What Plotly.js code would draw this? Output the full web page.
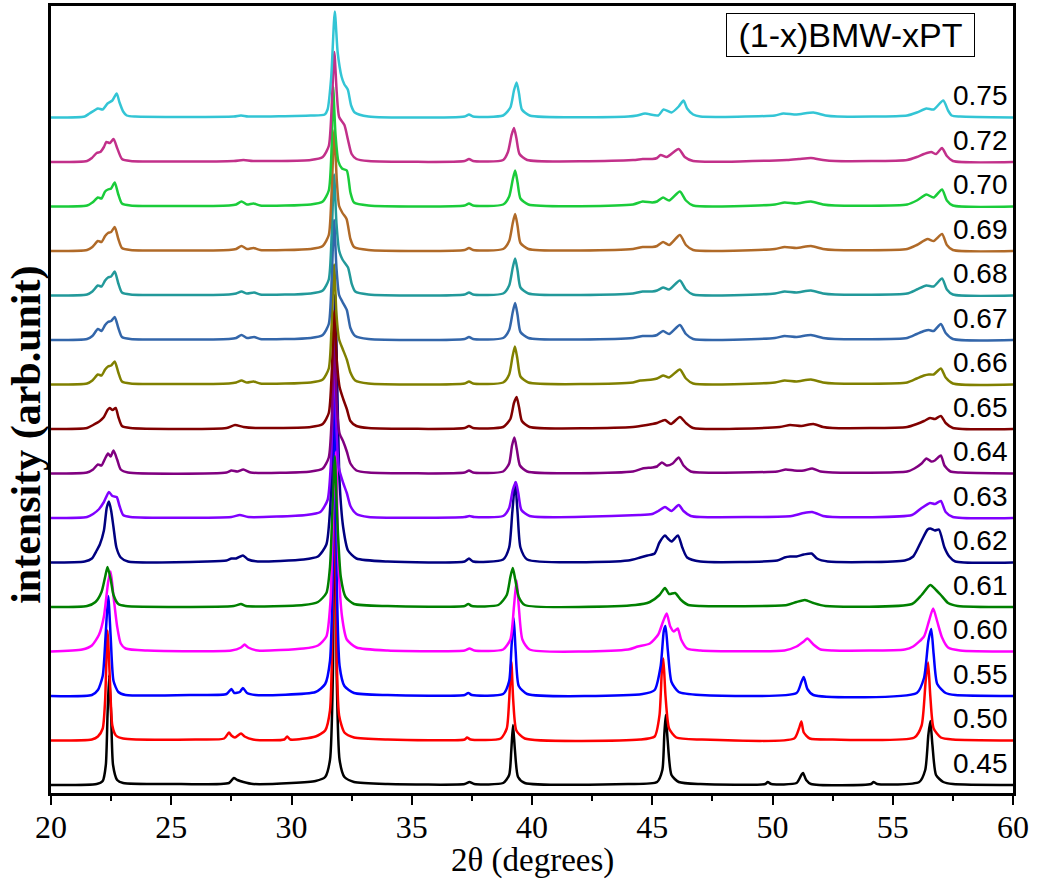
<!DOCTYPE html>
<html>
<head>
<meta charset="utf-8">
<script src="https://cdn.plot.ly/plotly-3.0.1.min.js"></script>
<style>
html,body{margin:0;padding:0;background:#ffffff;}
#chart{width:1038px;height:884px;}
</style>
</head>
<body>
<div id="chart"></div>
<script>
// Compositions x in (1-x)BMW-xPT, bottom to top
const compositions = ['0.45','0.50','0.55','0.60','0.61','0.62','0.63','0.64','0.65','0.66','0.67','0.68','0.69','0.70','0.72','0.75'];

// Each series: [2theta (deg), intensity above its own baseline (arb. unit)]
const s045 = [[20,0],[21.9,1],[22.15,4],[22.28,20],[22.35,70],[22.42,110],[22.5,70],[22.58,20],[22.75,5],[23.0,2],[25,1],[27.4,2],[27.6,7],[27.75,5],[28.0,3],[28.4,1],[30,2],[31.0,4],[31.4,8],[31.6,25],[31.72,110],[31.8,400],[31.88,110],[32.0,25],[32.2,8],[32.6,3],[34,1],[37.2,1],[37.4,3],[37.6,1],[38.8,2],[39.05,10],[39.14,35],[39.21,60],[39.29,35],[39.42,8],[39.7,2],[44,1],[45.2,3],[45.42,15],[45.5,50],[45.56,70],[45.64,45],[45.8,10],[46.1,3],[47,1],[49.7,1],[49.8,3],[49.95,1],[51.0,2],[51.2,10],[51.27,12],[51.4,5],[51.6,1],[54.1,1],[54.2,3],[54.35,1],[56.1,3],[56.35,15],[56.48,50],[56.56,64],[56.65,40],[56.8,10],[57.1,3],[57.5,1],[60,0]];
const s050 = [[20,0],[21.7,1],[21.95,4],[22.15,12],[22.25,40],[22.35,110],[22.45,60],[22.55,15],[22.7,5],[23.0,2],[26,1],[27.2,2],[27.4,8],[27.5,5],[27.65,3],[27.9,7],[28.05,4],[28.4,1],[29.7,1],[29.82,4],[29.95,1],[31.0,4],[31.4,10],[31.6,30],[31.7,110],[31.78,350],[31.86,110],[31.98,25],[32.2,8],[32.6,3],[34,1],[37.2,1],[37.3,3],[37.45,1],[38.7,2],[38.95,12],[39.05,40],[39.14,79],[39.22,40],[39.35,10],[39.7,2],[44.5,1],[45.1,4],[45.3,25],[45.4,70],[45.46,82],[45.55,45],[45.7,12],[46.0,3],[47,1],[50.9,2],[51.1,12],[51.2,19],[51.3,8],[51.55,2],[52.5,1],[55.9,3],[56.2,15],[56.37,60],[56.47,78],[56.56,45],[56.7,12],[57.0,3],[57.5,1],[60,0]];
const s055 = [[20,0],[21.7,1],[21.95,6],[22.15,20],[22.27,60],[22.38,100],[22.48,60],[22.6,15],[22.8,4],[23.1,1],[26,1],[27.3,2],[27.5,7],[27.62,3],[27.85,4],[27.98,8],[28.15,3],[28.5,1],[31.0,4],[31.4,12],[31.6,35],[31.72,130],[31.8,330],[31.88,120],[32.0,30],[32.2,10],[32.6,3],[34,1],[37.2,1],[37.35,3],[37.5,1],[38.8,2],[39.05,15],[39.15,50],[39.24,78],[39.32,45],[39.45,10],[39.8,2],[44.6,2],[45.1,6],[45.35,30],[45.48,65],[45.55,70],[45.65,45],[45.8,14],[46.1,4],[47,1],[51.0,3],[51.2,14],[51.3,19],[51.45,7],[51.7,1],[56.0,3],[56.3,18],[56.48,55],[56.6,67],[56.7,42],[56.85,12],[57.2,3],[57.6,1],[60,0]];
const s060 = [[20,0],[21.3,2],[21.7,6],[22.0,17],[22.2,35],[22.38,70],[22.48,80],[22.6,55],[22.75,25],[22.9,8],[23.1,3],[24,1],[27.5,1],[27.9,4],[28.05,7],[28.2,4],[28.6,1],[30.5,3],[31.1,6],[31.45,15],[31.62,50],[31.75,160],[31.85,200],[31.95,90],[32.1,35],[32.3,12],[32.7,4],[34,1],[37.2,1],[37.4,3],[37.6,1],[38.8,2],[39.1,12],[39.25,45],[39.36,71],[39.45,45],[39.6,12],[39.9,2],[44.0,2],[44.4,5],[44.9,8],[45.25,17],[45.45,30],[45.6,38],[45.75,25],[45.9,20],[46.06,23],[46.2,12],[46.45,3],[47,1],[50.5,1],[51.0,5],[51.3,10],[51.45,13],[51.7,7],[52.0,2],[52.5,1],[55.5,2],[55.85,5],[56.3,15],[56.5,30],[56.68,43],[56.85,30],[57.05,14],[57.3,4],[57.8,1],[60,0]];
const s061 = [[20,0],[21.5,1],[21.85,5],[22.1,15],[22.25,30],[22.35,40],[22.48,28],[22.6,12],[22.8,3],[23.1,1],[27.6,1],[27.9,3],[28.1,1],[30.5,2],[31.1,5],[31.45,14],[31.6,40],[31.72,110],[31.8,151],[31.9,90],[32.05,30],[32.25,10],[32.6,3],[34,1],[37.2,1],[37.35,3],[37.5,1],[38.6,2],[38.95,12],[39.1,30],[39.2,39],[39.3,28],[39.45,10],[39.7,2],[44.3,2],[44.9,5],[45.3,12],[45.53,19],[45.7,13],[45.95,14],[46.2,7],[46.5,2],[47,1],[50.6,2],[51.0,5],[51.35,7],[51.7,4],[52.2,1],[55.8,3],[56.2,12],[56.56,22],[56.8,17],[57.0,12],[57.3,4],[57.7,1],[60,0]];
const s062 = [[20,0],[21.4,1],[21.7,4],[21.9,12],[22.03,18],[22.2,32],[22.32,55],[22.41,61],[22.5,52],[22.6,35],[22.72,15],[22.9,5],[23.2,1],[26.5,1],[27.3,2],[27.5,4],[27.7,4],[27.98,7],[28.2,3],[28.6,1],[30.5,3],[31.1,6],[31.45,18],[31.62,60],[31.75,200],[31.82,268],[31.9,180],[32.0,80],[32.15,35],[32.35,12],[32.7,4],[34,1],[37.2,1],[37.38,4],[37.55,1],[38.8,3],[39.05,15],[39.18,50],[39.3,80],[39.4,50],[39.52,15],[39.8,3],[44.0,2],[44.5,5],[44.8,7],[45.1,9],[45.3,20],[45.53,27],[45.65,24],[45.8,21],[46.07,27],[46.25,15],[46.45,5],[47,1],[50.2,2],[50.5,5],[50.73,6],[51.0,6],[51.3,8],[51.63,9],[51.85,4],[52.3,1],[55.5,2],[55.85,6],[56.2,22],[56.45,33],[56.56,34],[56.75,32],[56.92,33],[57.15,15],[57.35,6],[57.6,1],[60,0]];
const s063 = [[20,0],[21.5,1],[21.75,4],[22.0,9],[22.2,16],[22.41,26],[22.55,22],[22.73,21],[22.85,12],[23.0,3],[23.3,1],[27.5,1],[27.85,3],[28.2,1],[30.6,3],[31.2,6],[31.5,18],[31.65,60],[31.77,160],[31.87,90],[31.97,50],[32.15,35],[32.3,25],[32.45,12],[32.7,4],[33.2,1],[37.2,1],[37.4,2],[37.6,1],[38.8,2],[39.05,10],[39.2,28],[39.33,36],[39.43,25],[39.56,8],[39.9,2],[44.45,3],[45.0,4],[45.25,7],[45.53,11],[45.8,7],[46.1,13],[46.3,7],[46.6,2],[47,1],[50.8,2],[51.3,5],[51.65,6],[52.1,2],[52.5,1],[55.8,3],[56.2,10],[56.55,15],[56.75,14],[57.0,17],[57.2,6],[57.5,1],[60,0]];
const s064 = [[20,0],[21.5,1],[21.75,4],[21.95,9],[22.1,8],[22.25,15],[22.37,20],[22.48,17],[22.6,23],[22.75,14],[22.9,4],[23.2,1],[27.3,1],[27.5,3],[27.75,2],[28.0,4],[28.3,1],[30.8,2],[31.3,5],[31.55,16],[31.68,60],[31.78,140],[31.88,70],[32.0,40],[32.15,32],[32.3,22],[32.45,10],[32.7,3],[33.2,1],[37.2,1],[37.38,3],[37.55,1],[38.8,2],[39.05,10],[39.17,28],[39.27,36],[39.37,24],[39.5,8],[39.8,2],[44.2,2],[44.6,5],[45.0,6],[45.2,7],[45.4,11],[45.6,8],[45.85,10],[46.1,16],[46.3,8],[46.6,2],[47,1],[50.2,2],[50.55,4],[50.9,3],[51.3,3],[51.65,5],[52.0,2],[52.5,1],[55.6,2],[55.9,5],[56.2,10],[56.4,15],[56.6,12],[56.75,13],[57.0,18],[57.15,8],[57.4,2],[57.8,1],[60,0]];
const s065 = [[20,0],[21.5,1],[21.75,4],[22.03,8],[22.2,12],[22.35,19],[22.44,21],[22.56,19],[22.69,21],[22.8,12],[22.95,3],[23.3,1],[27.3,1],[27.65,4],[28.0,2],[28.5,1],[30.8,2],[31.3,5],[31.55,16],[31.68,60],[31.78,118],[31.88,70],[32.0,42],[32.15,30],[32.3,20],[32.45,8],[32.7,3],[33.2,1],[37.2,1],[37.38,3],[37.55,1],[38.8,2],[39.1,10],[39.25,26],[39.36,32],[39.46,22],[39.58,8],[39.9,2],[44.2,2],[44.5,3],[45.0,5],[45.2,6],[45.53,9],[45.78,5],[46.15,12],[46.4,6],[46.7,1],[50.3,2],[50.73,4],[51.2,3],[51.7,5],[52.1,2],[52.5,1],[55.6,2],[56.0,5],[56.3,8],[56.55,11],[56.75,10],[57.0,13],[57.2,6],[57.5,1],[60,0]];
const s066 = [[20,0],[21.5,1],[21.72,4],[21.95,10],[22.1,9],[22.25,15],[22.37,18],[22.5,19],[22.65,23],[22.8,12],[22.95,3],[23.3,1],[27.4,1],[27.7,2],[27.92,4],[28.15,2],[28.42,3],[28.7,1],[30.8,2],[31.3,5],[31.55,16],[31.67,60],[31.77,120],[31.87,70],[31.98,45],[32.12,36],[32.3,25],[32.45,12],[32.65,4],[33.2,1],[37.2,1],[37.38,3],[37.55,1],[38.8,2],[39.05,10],[39.19,28],[39.29,38],[39.39,26],[39.52,8],[39.85,2],[44.2,2],[44.5,4],[45.0,5],[45.2,6],[45.45,9],[45.7,7],[46.15,15],[46.4,6],[46.7,1],[50.1,2],[50.5,4],[51.0,3],[51.6,5],[52.1,2],[52.6,1],[55.6,2],[56.0,6],[56.3,9],[56.5,10],[56.7,10],[57.0,16],[57.2,7],[57.5,1],[60,0]];
const s067 = [[20,0],[21.5,1],[21.72,4],[21.95,11],[22.1,9],[22.25,15],[22.37,18],[22.5,19],[22.65,23],[22.8,12],[22.95,3],[23.3,1],[27.4,1],[27.7,2],[27.92,5],[28.15,2],[28.45,3],[28.7,1],[30.8,2],[31.3,5],[31.55,16],[31.67,60],[31.77,120],[31.87,72],[31.98,45],[32.12,38],[32.3,30],[32.45,12],[32.65,4],[33.2,1],[37.2,1],[37.38,3],[37.55,1],[38.8,2],[39.05,10],[39.2,28],[39.3,37],[39.4,25],[39.52,8],[39.85,2],[44.2,2],[44.6,4],[45.0,4],[45.2,5],[45.45,9],[45.7,6],[46.15,15],[46.4,6],[46.7,1],[50.1,2],[50.5,4],[51.0,3],[51.6,5],[52.1,2],[52.6,1],[55.6,2],[56.0,6],[56.3,9],[56.5,10],[56.7,9],[57.0,16],[57.2,7],[57.5,1],[60,0]];
const s068 = [[20,0],[21.5,1],[21.72,4],[21.95,10],[22.1,9],[22.25,15],[22.37,18],[22.5,19],[22.65,24],[22.8,12],[22.95,3],[23.3,1],[27.4,1],[27.7,2],[27.92,4],[28.15,2],[28.45,3],[28.7,1],[30.8,2],[31.3,5],[31.55,16],[31.67,60],[31.77,121],[31.87,72],[31.98,45],[32.12,36],[32.35,28],[32.5,12],[32.65,4],[33.2,1],[37.2,1],[37.38,3],[37.55,1],[38.8,2],[39.05,10],[39.2,28],[39.3,37],[39.4,25],[39.52,8],[39.85,2],[44.2,2],[44.6,4],[45.0,4],[45.2,5],[45.45,8],[45.7,6],[46.15,15],[46.4,6],[46.7,1],[50.1,2],[50.5,4],[51.0,3],[51.6,5],[52.1,2],[52.6,1],[55.6,2],[56.0,6],[56.4,10],[56.7,9],[57.05,17],[57.25,6],[57.5,1],[60,0]];
const s069 = [[20,0],[21.5,1],[21.72,4],[21.95,10],[22.1,9],[22.25,15],[22.37,18],[22.5,19],[22.65,24],[22.8,12],[22.95,3],[23.3,1],[27.4,1],[27.7,2],[27.92,5],[28.15,2],[28.42,3],[28.7,1],[30.8,2],[31.3,5],[31.55,16],[31.67,60],[31.78,121],[31.88,72],[31.98,45],[32.12,38],[32.29,32],[32.45,12],[32.6,4],[33.2,1],[37.2,1],[37.38,3],[37.55,1],[38.8,2],[39.05,10],[39.2,28],[39.3,37],[39.4,25],[39.52,8],[39.85,2],[44.2,2],[44.6,4],[45.0,4],[45.2,5],[45.45,9],[45.7,6],[46.15,16],[46.4,6],[46.7,1],[50.1,2],[50.5,4],[51.0,3],[51.6,5],[52.1,2],[52.6,1],[55.6,2],[56.0,6],[56.45,12],[56.7,10],[57.05,17],[57.25,6],[57.5,1],[60,0]];
const s070 = [[20,0],[21.5,1],[21.72,4],[21.95,9],[22.1,8],[22.25,15],[22.37,17],[22.5,18],[22.65,24],[22.8,12],[22.95,3],[23.3,1],[27.4,1],[27.7,2],[27.92,5],[28.15,2],[28.42,3],[28.7,1],[30.8,2],[31.3,5],[31.55,16],[31.67,60],[31.73,120],[31.83,72],[31.95,45],[32.1,38],[32.3,36],[32.45,14],[32.6,4],[33.2,1],[37.2,1],[37.38,3],[37.55,1],[38.8,2],[39.05,10],[39.2,27],[39.3,36],[39.4,24],[39.52,8],[39.85,2],[44.2,2],[44.6,5],[45.0,4],[45.2,5],[45.45,9],[45.7,6],[46.15,15],[46.4,6],[46.7,1],[50.1,2],[50.5,4],[51.0,3],[51.6,5],[52.1,2],[52.6,1],[55.6,2],[56.0,6],[56.4,12],[56.7,9],[57.05,17],[57.25,6],[57.5,1],[60,0]];
const s072 = [[20,0],[21.5,1],[21.7,4],[21.9,9],[22.05,10],[22.2,15],[22.3,20],[22.45,19],[22.6,23],[22.75,14],[22.95,3],[23.3,1],[27.6,1],[28.0,2],[28.4,1],[30.8,2],[31.3,5],[31.55,16],[31.68,60],[31.78,110],[31.88,70],[31.98,45],[32.2,37],[32.35,22],[32.5,8],[32.7,3],[33.2,1],[37.2,1],[37.38,3],[37.55,1],[38.8,2],[39.0,10],[39.15,27],[39.25,34],[39.35,24],[39.48,8],[39.8,2],[44.2,2],[44.6,3],[45.0,3],[45.2,4],[45.35,7],[45.6,5],[46.1,13],[46.35,5],[46.7,1],[50.6,2],[51.1,3],[51.6,4],[52.1,2],[52.6,1],[55.6,2],[56.0,5],[56.3,8],[56.6,10],[56.8,8],[57.05,14],[57.25,6],[57.5,1],[60,0]];
const s075 = [[20,0],[21.4,1],[21.6,4],[21.95,9],[22.15,8],[22.35,14],[22.55,17],[22.73,24],[22.85,15],[23.0,6],[23.15,2],[23.5,1],[27.6,1],[27.9,2],[28.2,1],[30.8,2],[31.38,3],[31.5,8],[31.65,40],[31.8,106],[31.92,65],[32.08,41],[32.2,33],[32.34,28],[32.48,12],[32.63,5],[33.2,1],[37.2,1],[37.38,3],[37.55,1],[38.8,2],[39.1,10],[39.25,27],[39.36,35],[39.46,24],[39.58,8],[39.9,2],[44.0,1],[44.37,2],[44.7,4],[45.25,2],[45.47,8],[45.8,5],[46.1,11],[46.3,17],[46.45,9],[46.7,3],[47,1],[50.1,2],[50.45,4],[51.0,3],[51.7,5],[52.2,2],[52.7,1],[55.6,2],[56.0,5],[56.4,9],[56.7,8],[57.1,17],[57.3,7],[57.45,2],[57.8,1],[60,0]];

const seriesData = [s045,s050,s055,s060,s061,s062,s063,s064,s065,s066,s067,s068,s069,s070,s072,s075];
const seriesColors = ['#000000','#FF0000','#0000FF','#FF00FF','#008000','#000080','#8000FF','#800080','#800000','#808000','#3366AA','#22999A','#B06A28','#1ACC3A','#C2308A','#33C5D5'];

const stackBase = 8;      // baseline of the lowest pattern
const stackStep = 44.5;   // vertical shift between successive patterns

const traces = seriesData.map((s, i) => ({
  x: s.map(p => p[0]),
  y: s.map(p => p[1] + stackBase + i * stackStep),
  type: 'scatter',
  mode: 'lines',
  name: compositions[i],
  line: {color: seriesColors[i], width: 2.5, shape: 'spline', smoothing: 0.6},
  hoverinfo: 'skip',
  showlegend: false
}));

const annotations = compositions.map((c, i) => ({
  x: 59.88, y: stackBase + i * stackStep + 22,
  xref: 'x', yref: 'y',
  xanchor: 'right', yanchor: 'middle',
  text: c, showarrow: false,
  font: {family: 'Liberation Sans, Arial, sans-serif', size: 28, color: '#000'}
}));

annotations.push({
  x: 53.24, y: 758, xref: 'x', yref: 'y',
  xanchor: 'center', yanchor: 'middle',
  text: '(1-x)BMW-xPT', showarrow: false,
  font: {family: 'Liberation Sans, Arial, sans-serif', size: 34, color: '#000'},
  bordercolor: '#000', borderwidth: 1, borderpad: 0,
  width: 247, height: 42, bgcolor: 'rgba(255,255,255,0)'
});

// y-axis title (placed to match the reference's vertical offset)
annotations.push({
  x: -0.025, y: 0.455, xref: 'paper', yref: 'paper',
  xanchor: 'center', yanchor: 'middle', textangle: -90,
  text: '<b>intensity (arb.unit)</b>', showarrow: false,
  font: {family: 'Liberation Serif, Times New Roman, serif', size: 42, color: '#000'}
});

// x-axis title
annotations.push({
  x: 0.5, y: -0.0855, xref: 'paper', yref: 'paper',
  xanchor: 'center', yanchor: 'middle',
  text: '2θ (degrees)', showarrow: false,
  font: {family: 'Liberation Serif, Times New Roman, serif', size: 33, color: '#000'}
});

const layout = {
  width: 1038, height: 884,
  margin: {l: 51, r: 25, t: 6, b: 91, pad: 0},
  paper_bgcolor: '#ffffff', plot_bgcolor: '#ffffff',
  showlegend: false,
  xaxis: {
    range: [20, 60], dtick: 5, tick0: 20,
    ticks: 'outside', ticklen: 9, tickwidth: 2, tickcolor: '#000',
    minor: {dtick: 2.5, ticks: 'outside', ticklen: 5, tickwidth: 2, tickcolor: '#000'},
    showline: true, linewidth: 3, linecolor: '#000', mirror: true,
    showgrid: false, zeroline: false,
    ticklabelstandoff: -5,
    tickfont: {family: 'Liberation Serif, Times New Roman, serif', size: 32, color: '#000'}
  },
  yaxis: {
    range: [0, 787],
    showline: true, linewidth: 3, linecolor: '#000', mirror: true,
    showticklabels: false, ticks: '', showgrid: false, zeroline: false
  },
  annotations: annotations
};

Plotly.newPlot('chart', traces, layout, {staticPlot: true, displayModeBar: false});
</script>
</body>
</html>
